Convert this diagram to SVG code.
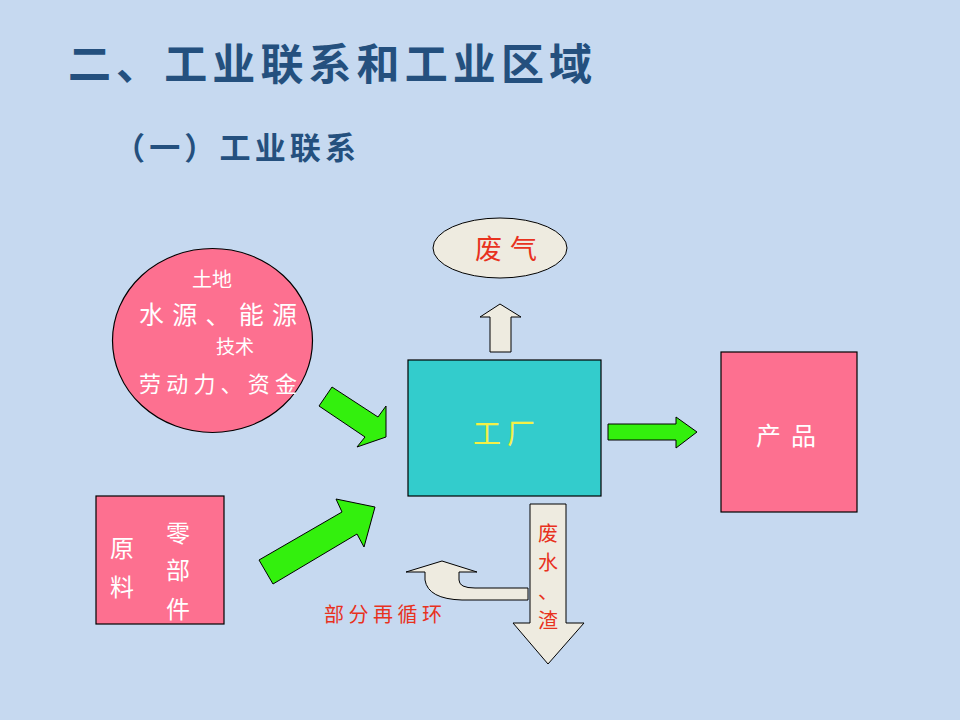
<svg xmlns="http://www.w3.org/2000/svg" width="960" height="720" viewBox="0 0 960 720">
<style>
.t{font-family:"Noto Sans CJK SC","Noto Sans CJK TC",sans-serif}
.title{fill:#24507e;font-weight:bold}
.w{fill:#ffffff}
.r{fill:#e8321e}
.pink{fill:#fd7090;stroke:#000;stroke-width:1.2}
.green{fill:#33f00d;stroke:#000;stroke-width:1}
.beige{fill:#eeebe0;stroke:#000;stroke-width:1}
</style>
<rect width="960" height="720" fill="#c6d9f0"/>
<text class="t title" x="68" y="80" font-size="43" textLength="524" lengthAdjust="spacing">二、工业联系和工业区域</text>
<text class="t title" x="114" y="159" font-size="31" textLength="242" lengthAdjust="spacing">（一）工业联系</text>

<g id="resources">
<ellipse class="pink" cx="212.5" cy="340.5" rx="100" ry="92"/>
<text class="t w" x="212" y="287" font-size="20" text-anchor="middle">土地</text>
<text class="t w" x="139" y="324" font-size="25" textLength="158" lengthAdjust="spacing">水源、能源</text>
<text class="t w" x="235" y="354" font-size="19" text-anchor="middle">技术</text>
<text class="t w" x="139" y="392" font-size="22" textLength="158" lengthAdjust="spacing">劳动力、资金</text>
</g>

<g id="materials">
<rect class="pink" x="96" y="496" width="128" height="128"/>
<text class="t w" x="122" y="557" font-size="24" text-anchor="middle">原</text>
<text class="t w" x="122" y="596" font-size="24" text-anchor="middle">料</text>
<text class="t w" x="178" y="542" font-size="24" text-anchor="middle">零</text>
<text class="t w" x="178" y="579" font-size="24" text-anchor="middle">部</text>
<text class="t w" x="178" y="618" font-size="24" text-anchor="middle">件</text>
</g>

<g id="factory">
<rect x="408" y="360" width="193" height="136" fill="#33cccc" stroke="#000" stroke-width="1.2"/>
<text class="t" x="504" y="444" font-size="28" fill="#f4f046" text-anchor="middle" textLength="62" lengthAdjust="spacing">工厂</text>
</g>

<g id="product">
<rect class="pink" x="721" y="352" width="136" height="160"/>
<text class="t w" x="786" y="445" font-size="25" text-anchor="middle" textLength="60" lengthAdjust="spacing">产品</text>
</g>

<g id="exhaust">
<ellipse class="beige" cx="500" cy="248" rx="67" ry="30"/>
<text class="t r" x="506" y="259" font-size="27" text-anchor="middle" textLength="62" lengthAdjust="spacing">废气</text>
</g>

<g id="connectors">
<polygon class="green" points="332,387 378,417 386,406 386,437 357,447 365,437 319,406"/>
<polygon class="green" points="259,560 342,512 336,499 375,507 364,547 357,534 273,584"/>
<polygon class="green" points="608,424 676,424 676,417 697,432 676,448 676,440 608,440"/>
<polygon class="beige" points="490,352 490,317 480,317 500,304 521,317 511,317 511,352"/>
<polygon class="beige" points="530,504 566,504 566,623 584,623 548,664 513,623 530,623"/>
<path class="beige" d="M528,588 L475,588 Q459,588 459,580 L459,572 L477,572 L442,561 L406,572 L425,572 L425,580 Q428,599 462,600 L528,600 Z"/>
<text class="t r" x="548" y="541" font-size="20" text-anchor="middle">废</text>
<text class="t r" x="548" y="570" font-size="20" text-anchor="middle">水</text>
<text class="t r" x="548" y="599" font-size="20" text-anchor="middle">、</text>
<text class="t r" x="548" y="628" font-size="20" text-anchor="middle">渣</text>
<text class="t r" x="324" y="622" font-size="20" textLength="118" lengthAdjust="spacing">部分再循环</text>
</g>
</svg>
